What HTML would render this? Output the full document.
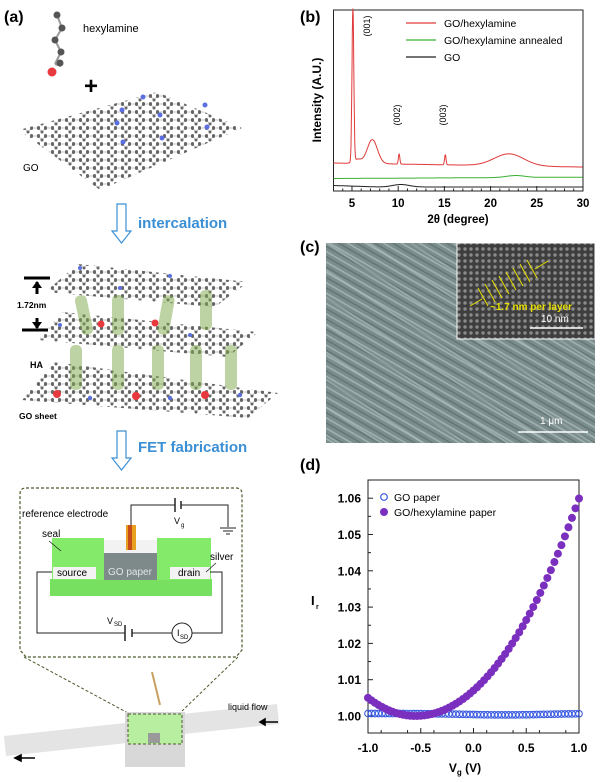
<!DOCTYPE html>
<html><head><meta charset="utf-8"><style>
html,body{margin:0;padding:0;background:#fff;width:600px;height:782px;overflow:hidden}
svg{display:block;font-family:"Liberation Sans",Arial,sans-serif}
</style></head><body>
<svg id="s" width="600" height="782" viewBox="0 0 600 782" xmlns="http://www.w3.org/2000/svg">
<defs>
<pattern id="hex" width="14" height="8" patternUnits="userSpaceOnUse">
<rect width="14" height="8" fill="#fff"/>
<path d="M0 4 L3.5 0 L10.5 0 L14 4 M3.5 8 L10.5 8" stroke="#c4c4c4" stroke-width="1" fill="none"/>
<circle cx="3.5" cy="0.5" r="1.5" fill="#666"/><circle cx="10.5" cy="0.5" r="1.5" fill="#666"/>
<circle cx="0" cy="4" r="1.5" fill="#666"/><circle cx="14" cy="4" r="1.5" fill="#666"/>
<circle cx="3.5" cy="7.5" r="1.5" fill="#666"/><circle cx="10.5" cy="7.5" r="1.5" fill="#666"/>
</pattern>
<pattern id="sem" width="9" height="9" patternUnits="userSpaceOnUse" patternTransform="rotate(30)">
<rect width="9" height="9" fill="#7b8e8d"/>
<rect y="0" width="9" height="1.6" fill="#9fb1b0"/><rect y="4.5" width="9" height="1.4" fill="#627574"/>
</pattern>
<pattern id="sem2" width="23" height="23" patternUnits="userSpaceOnUse" patternTransform="rotate(33)">
<rect width="23" height="23" fill="none"/>
<rect y="2" width="23" height="2" fill="#b3c2c1" opacity="0.5"/>
</pattern>
<pattern id="tem" width="6" height="6" patternUnits="userSpaceOnUse">
<rect width="6" height="6" fill="#3e3e3e"/><circle cx="3" cy="3" r="1.7" fill="#8a8a8a"/>
</pattern>
</defs>

<!-- Panel (a) -->
<text x="4" y="22" font-size="16" font-weight="bold">(a)</text>
<g stroke="#999" stroke-width="2"><line x1="57" y1="15" x2="62" y2="28"/><line x1="62" y1="28" x2="55" y2="40"/><line x1="55" y1="40" x2="61" y2="52"/><line x1="61" y1="52" x2="55" y2="64"/><line x1="55" y1="64" x2="61" y2="66"/></g>
<g fill="#555"><circle cx="57" cy="15" r="3.5"/><circle cx="62" cy="28" r="3.5"/><circle cx="55" cy="40" r="3.5"/><circle cx="61" cy="52" r="3.5"/><circle cx="60" cy="63" r="3.5"/></g>
<circle cx="52" cy="72" r="4.5" fill="#e8393f"/>
<text x="83" y="32" font-size="11">hexylamine</text>
<text x="84" y="94" font-size="24" font-weight="bold">+</text>
<polygon points="19,130 157,92 242,128 100,190" fill="url(#hex)"/>
<g fill="#5b6fe0"><circle cx="143" cy="97" r="2.5"/><circle cx="122" cy="110" r="2.5"/><circle cx="160" cy="115" r="2.5"/><circle cx="117" cy="123" r="2.5"/><circle cx="123" cy="142" r="2.5"/><circle cx="162" cy="138" r="2.5"/><circle cx="207" cy="127" r="2.5"/><circle cx="205" cy="105" r="2.5"/></g>
<text x="23" y="171" font-size="10">GO</text>
<path d="M117 204 h9 v27 h5 l-9.5 12 l-9.5 -12 h5 z" fill="#fff" stroke="#3b8fd4" stroke-width="1.2"/>
<text x="138" y="228" font-size="15" font-weight="bold" fill="#3b8fd4">intercalation</text>

<polygon points="45,292 78,264 248,282 215,307" fill="url(#hex)"/>
<polygon points="38,340 62,312 258,332 228,357" fill="url(#hex)"/>
<polygon points="22,400 55,362 278,393 248,418" fill="url(#hex)"/>
<g fill="#5b6fe0"><circle cx="80" cy="268" r="2"/><circle cx="120" cy="288" r="2"/><circle cx="170" cy="276" r="2"/><circle cx="60" cy="325" r="2"/><circle cx="190" cy="335" r="2"/><circle cx="90" cy="398" r="2.2"/><circle cx="170" cy="398" r="2.2"/><circle cx="240" cy="395" r="2.2"/></g>
<g fill="#7fa84a" opacity="0.5">
<rect x="78" y="295" width="12" height="40" rx="5" transform="rotate(-12 84 315)"/><rect x="112" y="295" width="12" height="40" rx="5"/><rect x="160" y="295" width="12" height="40" rx="5" transform="rotate(10 166 315)"/><rect x="200" y="290" width="12" height="40" rx="5"/>
<rect x="70" y="345" width="12" height="45" rx="5"/><rect x="112" y="345" width="12" height="45" rx="5"/><rect x="152" y="345" width="12" height="45" rx="5"/><rect x="190" y="345" width="12" height="45" rx="5"/><rect x="225" y="345" width="12" height="45" rx="5"/>
</g>
<g fill="#e8393f"><circle cx="101" cy="324" r="3.5"/><circle cx="155" cy="323" r="3.5"/><circle cx="57" cy="394" r="4"/><circle cx="136" cy="396" r="4"/><circle cx="205" cy="395" r="4"/></g>
<g stroke="#000" stroke-width="3"><line x1="24" y1="278" x2="50" y2="278"/><line x1="22" y1="330" x2="48" y2="330"/></g>
<path d="M37 282 v12 M37 318 v10" stroke="#000" stroke-width="3"/>
<path d="M32 288 l5 -7 l5 7z M32 322 l5 7 l5 -7z" fill="#000"/>
<text x="17" y="308" font-size="8.5" font-weight="bold">1.72nm</text>
<text x="30" y="368" font-size="9" font-weight="bold">HA</text>
<text x="19" y="419" font-size="8.5" font-weight="bold">GO sheet</text>
<path d="M117 431 h9 v27 h5 l-9.5 12 l-9.5 -12 h5 z" fill="#fff" stroke="#3b8fd4" stroke-width="1.2"/>
<text x="138" y="452" font-size="15" font-weight="bold" fill="#3b8fd4">FET fabrication</text>

<!-- dashed box -->
<path d="M26 488 H236 Q242 488 242 494 V650 L236 657 H26 L20 650 V494 Q20 488 26 488 Z" fill="none" stroke="#4a5a2a" stroke-width="1.2" stroke-dasharray="3,2"/>
<path d="M24 657 L128 713 M238 657 L182 711" stroke="#4a5a2a" stroke-width="1" stroke-dasharray="3,2"/>
<!-- device -->
<path d="M131 532 V505 H175 M181 505 H228 V527" stroke="#222" stroke-width="1" fill="none"/>
<path d="M175 498 v14 M181 501 v8" stroke="#222" stroke-width="1.5"/>
<path d="M220 528 h16 M223 531 h10 M226 534 h4" stroke="#222" stroke-width="1"/>
<text x="22" y="517" font-size="10">reference electrode</text>
<text x="174" y="524" font-size="9">V</text><text x="181" y="527" font-size="6">g</text>
<rect x="50" y="579" width="162" height="17" fill="#78e060"/>
<rect x="52" y="538" width="52" height="42" fill="#84ea6a"/>
<rect x="157" y="538" width="54" height="42" fill="#84ea6a"/>
<rect x="104" y="540" width="53" height="14" fill="#f2f2f2"/>
<rect x="104" y="553" width="53" height="27" fill="#7d8a89"/>
<rect x="126" y="525" width="10" height="25" fill="#e8a020"/><rect x="128" y="525" width="4" height="25" fill="#c84b1a"/>
<rect x="53" y="567" width="43" height="12" fill="#f3f3f3"/>
<rect x="170" y="567" width="40" height="12" fill="#f3f3f3"/>
<text x="57" y="576" font-size="10">source</text>
<text x="108" y="575" font-size="10" fill="#dfe6e6">GO paper</text>
<text x="178" y="576" font-size="10">drain</text>
<text x="42" y="537" font-size="10">seal</text>
<path d="M49 541 l12 10" stroke="#222" stroke-width="0.8"/>
<text x="210" y="560" font-size="10">silver</text>
<path d="M216 563 l-10 9" stroke="#222" stroke-width="0.8"/>
<path d="M52 572 H37 V633 H125 M132 633 H172 M192 633 H222 V572 H210" stroke="#222" stroke-width="1" fill="none"/>
<path d="M125 625 v16 M132 629 v8" stroke="#222" stroke-width="1.5"/>
<circle cx="182" cy="633" r="10" fill="#fff" stroke="#222"/>
<text x="177" y="636" font-size="9">I</text><text x="180" y="639" font-size="6">SD</text>
<text x="107" y="624" font-size="9">V</text><text x="114" y="626" font-size="6">SD</text>
<!-- flow cell -->
<path d="M5 746 L126 733" stroke="#e4e4e4" stroke-width="20"/>
<path d="M183 724 L278 714" stroke="#e4e4e4" stroke-width="20"/>
<path d="M152 672 L160 705" stroke="#c8a060" stroke-width="2"/>
<rect x="125" y="712" width="60" height="55" fill="#d8d8d8"/>
<rect x="128" y="714" width="54" height="30" fill="#b8eea0" stroke="#4a5a2a" stroke-dasharray="3,2"/>
<rect x="148" y="733" width="12" height="10" fill="#9a9a9a"/>
<text x="228" y="710" font-size="9">liquid flow</text>
<path d="M278 722 h-18 M260 722 l5 -3 v6z" stroke="#000" stroke-width="1.6" fill="#000"/>
<path d="M35 758 h-20 M15 758 l6 -3 v6z" stroke="#000" stroke-width="1.6" fill="#000"/>

<!-- Panel (b) -->
<text x="300" y="22" font-size="16" font-weight="bold">(b)</text>
<rect x="333.5" y="10" width="249.5" height="181" fill="none" stroke="#222" stroke-width="1"/>
<g id="bt"></g>
<path id="red" fill="none" stroke="#e03a3a" stroke-width="1"/>
<path id="grn" fill="none" stroke="#3cb034" stroke-width="1"/>
<path id="blk" fill="none" stroke="#222" stroke-width="1"/>
<text font-size="9" transform="translate(370,26) rotate(-90)" text-anchor="middle">(001)</text>
<text font-size="9" transform="translate(400,115) rotate(-90)" text-anchor="middle">(002)</text>
<text font-size="9" transform="translate(446,115) rotate(-90)" text-anchor="middle">(003)</text>
<line x1="406" y1="23" x2="436" y2="23" stroke="#e03a3a" stroke-width="1.3"/><text x="444" y="27" font-size="10.5">GO/hexylamine</text>
<line x1="406" y1="40" x2="436" y2="40" stroke="#3cb034" stroke-width="1.3"/><text x="444" y="44" font-size="10.5">GO/hexylamine annealed</text>
<line x1="406" y1="57" x2="436" y2="57" stroke="#222" stroke-width="1.3"/><text x="444" y="61" font-size="10.5">GO</text>
<text font-size="12" font-weight="bold" transform="translate(321,100) rotate(-90)" text-anchor="middle">Intensity (A.U.)</text>
<text x="458" y="223" font-size="11.5" font-weight="bold" text-anchor="middle">2θ (degree)</text>

<!-- Panel (c) -->
<text x="300" y="252" font-size="16" font-weight="bold">(c)</text>
<rect x="326" y="243" width="269" height="200" fill="url(#sem)"/>
<rect x="326" y="243" width="269" height="200" fill="url(#sem2)"/>
<rect x="457" y="243" width="138" height="96" fill="url(#tem)" stroke="#fff" stroke-width="1"/>
<g stroke="#e8e000" stroke-width="1"><line x1="478" y1="288" x2="488" y2="306"/><line x1="485" y1="284" x2="495" y2="302"/><line x1="492" y1="280" x2="502" y2="298"/><line x1="499" y1="276" x2="509" y2="294"/><line x1="506" y1="272" x2="516" y2="290"/><line x1="513" y1="268" x2="523" y2="286"/><line x1="520" y1="264" x2="530" y2="282"/><line x1="527" y1="260" x2="537" y2="278"/><line x1="470" y1="306" x2="482" y2="299"/><line x1="535" y1="269" x2="548" y2="261"/></g>
<text x="490" y="310" font-size="10" font-weight="bold" fill="#e8e000">~1.7 nm per layer</text>
<text x="541" y="322" font-size="10" fill="#fff">10 nm</text>
<line x1="530" y1="328" x2="583" y2="328" stroke="#fff" stroke-width="1.5"/>
<text x="540" y="424" font-size="10" fill="#fff">1 μm</text>
<line x1="518" y1="432" x2="588" y2="432" stroke="#fff" stroke-width="1.5"/>

<!-- Panel (d) -->
<text x="300" y="470" font-size="16" font-weight="bold">(d)</text>
<rect x="368" y="480" width="211" height="253" fill="none" stroke="#222" stroke-width="1"/>
<g id="dt"></g>
<g id="dp"></g>
<circle cx="384" cy="497" r="3.3" fill="#fff" stroke="#3a5be0" stroke-width="1.2"/><text x="394" y="501" font-size="10.5">GO paper</text>
<circle cx="384" cy="512" r="4" fill="#7b2fbf"/><text x="394" y="516" font-size="10.5">GO/hexylamine paper</text>
<text x="311" y="605" font-size="13" font-weight="bold">I</text><text x="316" y="609" font-size="7" font-weight="bold">r</text>
<text x="465" y="772" font-size="12" font-weight="bold" text-anchor="middle">V<tspan font-size="8" dy="3">g</tspan><tspan dy="-3"> (V)</tspan></text>
</svg>
<script>
var NS="http://www.w3.org/2000/svg";
function el(p,t,a,txt){var e=document.createElementNS(NS,t);for(var k in a)e.setAttribute(k,a[k]);if(txt!==undefined)e.textContent=txt;p.appendChild(e);return e;}
var bt=document.getElementById("bt");
function X(t){return 333.5+(t-3)*9.24;}
for(var t=5;t<=30;t+=5){el(bt,"line",{x1:X(t),y1:191,x2:X(t),y2:186,stroke:"#222"});el(bt,"text",{x:X(t),y:207,"font-size":"11.5","font-weight":"bold","text-anchor":"middle"},t);}
for(var t=4;t<30;t+=1){if(t%5)el(bt,"line",{x1:X(t),y1:191,x2:X(t),y2:188.5,stroke:"#222"});}
function g(x,c,w){return Math.exp(-(x-c)*(x-c)/(2*w*w));}
var r="",gr="",bk="";
for(var t=3;t<=30;t+=0.03){
 var y=163+(t-3)*0.15-153*g(t,5.1,0.1)-24*g(t,7.2,0.55)-10*g(t,10.1,0.08)-10*g(t,15.1,0.08)-12*g(t,22,1.6)-4*g(t,5.6,0.4);
 r+=(r?"L":"M")+X(t).toFixed(1)+" "+y.toFixed(1);
 var yg=178.5-(t-3)*0.05-2*g(t,22.7,1);gr+=(gr?"L":"M")+X(t).toFixed(1)+" "+yg.toFixed(1);
 var yb=187-(t<8?(8-t)*0.3:0)-2.5*g(t,10.3,0.9);bk+=(bk?"L":"M")+X(t).toFixed(1)+" "+yb.toFixed(1);
}
document.getElementById("red").setAttribute("d",r);
document.getElementById("grn").setAttribute("d",gr);
document.getElementById("blk").setAttribute("d",bk);
var dt=document.getElementById("dt");
function DX(x){return 368+(x+1)*105.5;}function DY(v){return 716-(v-1)*3630;}
for(var i=0;i<=6;i++){var v=1+i*0.01;el(dt,"line",{x1:368,y1:DY(v),x2:373,y2:DY(v),stroke:"#222"});el(dt,"text",{x:361,y:DY(v)+4.5,"font-size":"12","font-weight":"bold","text-anchor":"end"},v.toFixed(2));
 el(dt,"line",{x1:368,y1:DY(v+0.005),x2:371,y2:DY(v+0.005),stroke:"#222"});}
for(var i=0;i<=4;i++){var x=-1+i*0.5;el(dt,"line",{x1:DX(x),y1:733,x2:DX(x),y2:728,stroke:"#222"});el(dt,"text",{x:DX(x),y:752,"font-size":"12","font-weight":"bold","text-anchor":"middle"},x.toFixed(1));}
for(var i=0;i<8;i++){var x=-0.875+i*0.25;el(dt,"line",{x1:DX(x),y1:733,x2:DX(x),y2:730,stroke:"#222"});}
var dp=document.getElementById("dp");
for(var i=0;i<=60;i++){var x=-1+i/30;var v=1.0007-0.0004*Math.exp(-(x-0.3)*(x-0.3)/0.3);
 el(dp,"circle",{cx:DX(x),cy:DY(v),r:3.3,fill:"none",stroke:"#3a5be0","stroke-width":"1.1"});}
for(var i=0;i<=60;i++){var x=-1+i/30;var d=x+0.55;var v;
 if(d<0)v=1+0.0247*d*d;else v=1+0.0226*d*d+0.00089*d*d*d+0.0004*d*d*d*d;
 el(dp,"circle",{cx:DX(x),cy:DY(v),r:4,fill:"#7b2fbf"});}
</script>
</body></html>
